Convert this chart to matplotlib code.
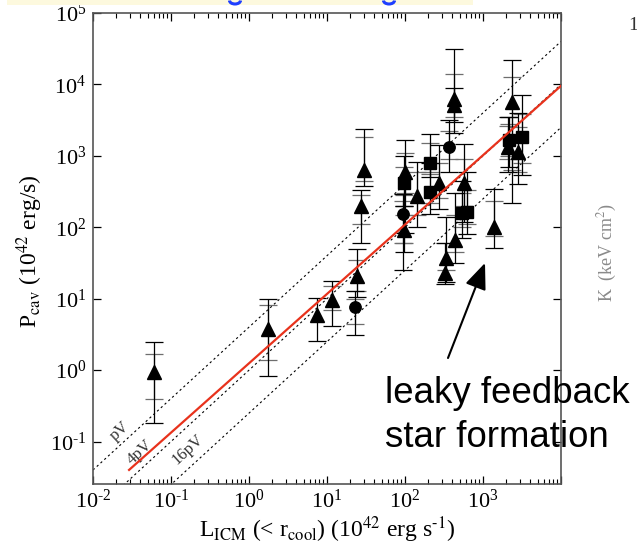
import numpy as np
import matplotlib
matplotlib.use("Agg")
import matplotlib.pyplot as plt
from matplotlib.ticker import FixedLocator, FixedFormatter, LogLocator, NullFormatter, NullLocator
from matplotlib.patches import Rectangle, Arc

plt.rcParams['font.family'] = ['Liberation Serif', 'DejaVu Serif']
plt.rcParams['mathtext.fontset'] = 'stix'

nan = np.nan

# Cavity power vs. ICM cooling luminosity (units of 1e42 erg/s)
# triangles
tri_L   = [0.060, 1.77, 7.4, 11.5, 24, 27, 29.8, 98, 100, 141, 270, 430, 420, 575, 437, 336, 325, 1380, 2350, 2100, 2800]
tri_P   = [0.95, 3.8, 5.9, 9.6, 20.5, 200, 630, 91, 600, 270, 420, 6300, 5200, 412, 66, 37, 23, 102, 5700, 1350, 1150]
tri_lo  = [0.18, 0.82, 2.6, 4.1, 10.7, 60, 380, 45, 83, 102, 180, 2100, 3000, 120, 32, 17, 16, 51, 220, 600, 410]
tri_hi  = [2.5, 10, 10.3, 17.5, 49, 330, 2340, 200, 1660, 830, 1400, 31000, 9000, 1480, 300, 140, 60, 340, 22000, 3500, 4000]
tri_glo = [0.40, 1.4, nan, 7.0, 13, 110, 450, 60, 300, 150, 260, 3500, nan, 200, 45, 25, nan, 75, 630, 900, 600]
tri_ghi = [1.7, 8.1, nan, 15, 35, 280, 1860, 150, 1100, 600, 800, 14000, nan, 900, 150, 60, nan, 230, 12600, 2600, 2500]

# circles
cir_L   = [23, 94, 370]
cir_P   = [7.7, 153, 1340]
cir_lo  = [3.1, 25, 600]
cir_hi  = [13, 295, 3200]
cir_glo = [4.4, 60, 900]
cir_ghi = [10, 230, 2200]

# squares
sq_L   = [98, 209, 209, 540, 615, 2130, 3200]
sq_P   = [412, 785, 316, 157, 166, 1660, 1820]
sq_lo  = [200, 510, 155, 70, 80, 700, 540]
sq_hi  = [1000, 2000, 800, 450, 600, 3500, 7000]
sq_glo = [280, 600, 220, 100, 110, 1000, 800]
sq_ghi = [700, 1500, 560, 300, 330, 2800, 3800]

# best-fit power law  log P = norm + slope * log L
fit_norm = 0.096
fit_slope = 0.971
fit_L = [0.029, 1.0e4]

# constant-ratio lines P = f * L, labelled by the enthalpy factor
ratio_f = [4.0, 1.0, 0.25]
ratio_labels = ['pV', '4pV', '16pV']
ratio_label_L = [0.0222, 0.040, 0.165]
ratio_label_P = [0.138, 0.070, 0.077]

HY = '\u2010'
x_ticks = [1e-2, 1e-1, 1e0, 1e1, 1e2, 1e3, 1e4]
x_ticklabels = [r'$\mathregular{10^{%s2}}$' % HY, r'$\mathregular{10^{%s1}}$' % HY, r'$\mathregular{10^{0}}$',
                r'$\mathregular{10^{1}}$', r'$\mathregular{10^{2}}$', r'$\mathregular{10^{3}}$', '']
y_ticks = [1e-1, 1e0, 1e1, 1e2, 1e3, 1e4, 1e5]
y_ticklabels = [r'$\mathregular{10^{%s1}}$' % HY, r'$\mathregular{10^{0}}$', r'$\mathregular{10^{1}}$',
                r'$\mathregular{10^{2}}$', r'$\mathregular{10^{3}}$', r'$\mathregular{10^{4}}$',
                r'$\mathregular{10^{5}}$']

W, H = 637, 547
fig = plt.figure(figsize=(W / 100, H / 100), dpi=100)
fig.patch.set_facecolor('white')

# slide header strip with the bottoms of the heading's letters
fig.add_artist(Rectangle((7 / W, 1 - 5 / H), 466 / W, 5 / H, transform=fig.transFigure,
                         facecolor='#fdf9de', edgecolor='none'))
for gx in (235, 389):
    fig.add_artist(Arc((gx, H - 0.5), 11, 7, theta1=180, theta2=360, transform=None,
                       color='#1f3fff', lw=2.2))

ax = fig.add_axes([93 / W, 1 - 484 / H, 468 / W, 471 / H])
ax.set_xscale('log')
ax.set_yscale('log')
ax.set_xlim(1e-2, 1e4)
ax.set_ylim(10 ** -1.594, 1e5)


def draw_group(L, P, lo, hi, glo, ghi, marker, ms):
    L = np.asarray(L, float); P = np.asarray(P, float)
    lo = np.asarray(lo, float); hi = np.asarray(hi, float)
    glo = np.asarray(glo, float); ghi = np.asarray(ghi, float)
    ax.errorbar(L, P, yerr=[P - lo, hi - P], fmt='none', ecolor='black',
                elinewidth=0.9, capsize=6.5, capthick=0.9, zorder=3)
    m = np.isfinite(glo)
    ax.errorbar(L[m], P[m], yerr=[P[m] - glo[m], ghi[m] - P[m]], fmt='none',
                ecolor='#6e6e6e', elinewidth=0.9, capsize=6.5, capthick=0.9, zorder=2)
    ax.plot(L, P, linestyle='none', marker=marker, ms=ms, color='black',
            markeredgecolor='black', zorder=4)


draw_group(tri_L, tri_P, tri_lo, tri_hi, tri_glo, tri_ghi, '^', 10.2)
draw_group(cir_L, cir_P, cir_lo, cir_hi, cir_glo, cir_ghi, 'o', 8.2)
draw_group(sq_L, sq_P, sq_lo, sq_hi, sq_glo, sq_ghi, 's', 8.0)

# ratio lines
line_L = np.array([1e-2, 1e4])
for f in ratio_f:
    ax.plot(line_L, f * line_L, color='black', lw=0.8, linestyle=(0, (2.0, 2.6)), zorder=1)
for lab, lx, ly in zip(ratio_labels, ratio_label_L, ratio_label_P):
    ax.text(lx, ly, lab, rotation=42.5, ha='center', va='center', fontsize=12, color='#333333',
            rotation_mode='anchor')

# fit line
fl = np.array(fit_L)
ax.plot(fl, 10 ** fit_norm * fl ** fit_slope, color='#e8321c', lw=1.6, zorder=5)

# ticks
ax.xaxis.set_major_locator(FixedLocator(x_ticks))
ax.xaxis.set_major_formatter(FixedFormatter(x_ticklabels))
ax.xaxis.set_minor_locator(LogLocator(base=10, subs=np.arange(2, 10), numticks=20))
ax.xaxis.set_minor_formatter(NullFormatter())
ax.yaxis.set_major_locator(FixedLocator(y_ticks))
ax.yaxis.set_major_formatter(FixedFormatter(y_ticklabels))
ax.yaxis.set_minor_locator(NullLocator())
ax.tick_params(axis='x', which='major', direction='in', top=True, bottom=True,
               length=6, width=0.9, labelsize=16, pad=4)
ax.tick_params(axis='x', which='minor', direction='in', top=True, bottom=True,
               length=3.3, width=0.8)
ax.tick_params(axis='y', which='major', direction='in', left=True, right=True,
               length=6, width=0.9, labelsize=16, pad=5)
for s in ax.spines.values():
    s.set_color('#555555')
    s.set_linewidth(1.2)

# axis titles
fig.text(30 / W, 1 - 251 / H, r'P$_{\rm cav}$ (10$^{42}$ erg/s)', rotation=90,
         ha='center', va='center', fontsize=17)
fig.text(327 / W, 1 - 537 / H, r'L$_{\rm ICM}$ (< r$_{\rm cool}$) (10$^{42}$ erg s$^{%s1}$)' % HY,
         ha='center', va='baseline', fontsize=17)

# annotation
fig.text(385 / W, 1 - 403 / H, 'leaky feedback', family='Liberation Sans', fontsize=26.4,
         ha='left', va='baseline', color='black')
fig.text(385 / W, 1 - 447 / H, 'star formation', family='Liberation Sans', fontsize=26.4,
         ha='left', va='baseline', color='black')
ax.annotate('', xy=(485, H - 263), xycoords='figure pixels',
            xytext=(448, H - 358), textcoords='figure pixels',
            arrowprops=dict(arrowstyle='-|>,head_length=0.8,head_width=0.33',
                            mutation_scale=20, color='black', lw=1.5,
                            shrinkA=0, shrinkB=0))

# neighbouring panel fragments
fig.text(607 / W, 1 - 252 / H, r'K  (keV cm$^2$)', rotation=90, ha='center', va='center',
         fontsize=13, color='#8a8a8a')
fig.text(628 / W, 1 - 25 / H, '1', ha='left', va='center', fontsize=14, color='#333333')

fig.savefig('out.png', dpi=100)
